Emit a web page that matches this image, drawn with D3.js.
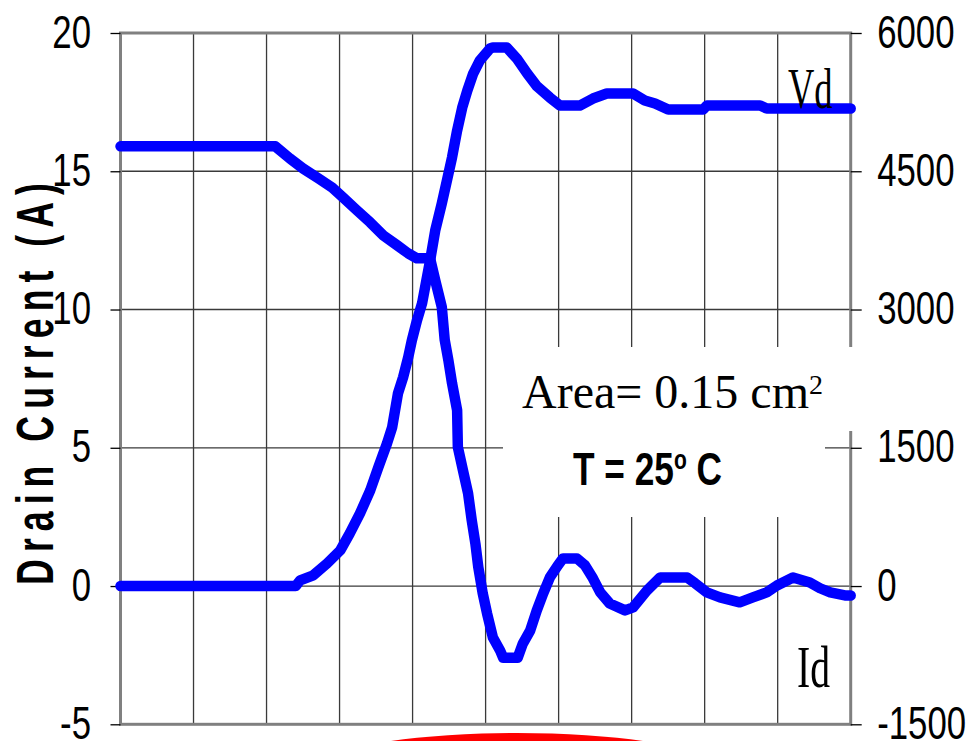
<!DOCTYPE html>
<html>
<head>
<meta charset="utf-8">
<script src="https://cdn.jsdelivr.net/npm/d3@7"></script>
<style>
  html, body { margin: 0; padding: 0; background: #fff; }
  svg { display: block; }
</style>
</head>
<body>
<div id="chart"></div>
<script>
// time axis in grid divisions (no labels on the original)
let gridTicks = [0, 1, 2, 3, 4, 5, 6, 7, 8, 9, 10];
let currentTicks = [-5, 0, 5, 10, 15, 20];
let voltageTicks = [-1500, 0, 1500, 3000, 4500, 6000];

// Id, drain current (A), left axis
let idTime = [0, 2.12, 2.32, 2.50, 2.71, 2.90, 3.05, 3.24, 3.42, 3.60, 3.79, 3.94, 4.06, 4.24,
    4.31, 4.40, 4.44, 4.49, 4.54, 4.61, 4.62, 4.69, 4.76, 4.81, 4.86, 4.90, 4.96, 5.02, 5.10,
    5.20, 5.24, 5.44, 5.51, 5.61, 5.70, 5.79, 5.88, 5.99, 6.06, 6.25, 6.36, 6.47, 6.57, 6.70,
    6.91, 7.02, 7.21, 7.39, 7.76, 7.87, 8.03, 8.21, 8.48, 8.66, 8.85, 8.99, 9.21, 9.44, 9.58,
    9.72, 9.92, 10];
let idValue = [15.9, 15.9, 15.46, 15.1, 14.74, 14.41, 14.05, 13.58, 13.15, 12.68, 12.32, 12.03, 11.85, 11.85,
    11.06, 10.09, 8.9, 8.17, 7.34, 6.36, 5.02, 4.18, 3.35, 2.38, 1.54, 0.68, -0.26, -0.99, -1.86,
    -2.34, -2.59, -2.59, -2.08, -1.61, -0.89, -0.26, 0.31, 0.75, 1.0, 1.0, 0.75, 0.28, -0.23, -0.63,
    -0.88, -0.77, -0.16, 0.31, 0.31, 0.1, -0.23, -0.41, -0.59, -0.41, -0.23, 0.02, 0.31, 0.13, -0.08,
    -0.23, -0.34, -0.34];

// Vd, drain voltage (V), right axis
let vdTime = [0, 2.40, 2.46, 2.64, 2.83, 3.01, 3.14, 3.28, 3.42, 3.53, 3.65, 3.72, 3.76, 3.80,
    3.87, 3.94, 3.99, 4.06, 4.13, 4.24, 4.31, 4.40, 4.47, 4.54, 4.61, 4.68, 4.75, 4.83, 4.92,
    5.06, 5.10, 5.29, 5.43, 5.57, 5.70, 5.88, 6.02, 6.29, 6.47, 6.66, 7.02, 7.18, 7.32, 7.50,
    7.98, 8.03, 8.76, 8.85, 10];
let vdValue = [0, 0, 62, 116, 246, 387, 571, 788, 1038, 1287, 1548, 1721, 1906, 2090,
    2264, 2481, 2665, 2882, 3067, 3532, 3857, 4150, 4399, 4649, 4942, 5191, 5376, 5560, 5701,
    5831, 5842, 5842, 5720, 5560, 5425, 5300, 5213, 5213, 5289, 5343, 5343, 5267, 5235, 5170,
    5170, 5213, 5213, 5180, 5180];

let width = 971;
let height = 741;
let plot = { left: 120.5, right: 850.7, top: 33, bottom: 724.3 };
let narrow = 0.74;

let svg = d3.select('#chart')
    .append('svg')
    .attr('width', width)
    .attr('height', height);

let xScale = d3.scaleLinear().domain([0, 10]).range([plot.left, plot.right]);
let yLeft = d3.scaleLinear().domain([-5, 20]).range([plot.bottom, plot.top]);
let yRight = d3.scaleLinear().domain([-1500, 6000]).range([plot.bottom, plot.top]);

// gridlines
svg.append('g')
    .selectAll('line')
    .data(gridTicks.slice(1, -1))
    .join('line')
    .attr('x1', d => xScale(d)).attr('x2', d => xScale(d))
    .attr('y1', plot.top).attr('y2', plot.bottom)
    .attr('stroke', '#3a3a3a')
    .attr('stroke-width', 1.3);

svg.append('g')
    .selectAll('line')
    .data(currentTicks.slice(1, -1))
    .join('line')
    .attr('x1', plot.left).attr('x2', plot.right)
    .attr('y1', d => yLeft(d)).attr('y2', d => yLeft(d))
    .attr('stroke', '#3a3a3a')
    .attr('stroke-width', 1.3);

// frame
svg.append('rect')
    .attr('x', plot.left).attr('y', plot.top)
    .attr('width', plot.right - plot.left)
    .attr('height', plot.bottom - plot.top)
    .attr('fill', 'none')
    .attr('stroke', '#808080')
    .attr('stroke-width', 3);

// white boxes behind the annotations
svg.append('rect')
    .attr('x', 503).attr('y', 347).attr('width', 370).attr('height', 84)
    .attr('fill', '#fff');
svg.append('rect')
    .attr('x', 503).attr('y', 430).attr('width', 322).attr('height', 87)
    .attr('fill', '#fff');

// axes
let plainNumber = d => String(d);

let leftAxis = svg.append('g')
    .attr('transform', `translate(${plot.left}, 0)`)
    .call(d3.axisLeft(yLeft).tickValues(currentTicks).tickFormat(plainNumber)
        .tickSize(10).tickSizeOuter(0));

let rightAxis = svg.append('g')
    .attr('transform', `translate(${plot.right}, 0)`)
    .call(d3.axisRight(yRight).tickValues(voltageTicks).tickFormat(plainNumber)
        .tickSize(11).tickSizeOuter(0));

function styleAxis(axis, dx) {
    axis.select('.domain').remove();
    axis.selectAll('.tick line').attr('stroke', '#000').attr('stroke-width', 1.3);
    axis.selectAll('.tick text')
        .attr('x', 0)
        .attr('dy', 0)
        .attr('transform', `translate(${dx}, 14) scale(${narrow}, 1)`)
        .attr('fill', '#000')
        .style('font-family', '"Liberation Sans", Arial, sans-serif')
        .style('font-size', '47px');
}
styleAxis(leftAxis, -29.5);
styleAxis(rightAxis, 26.5);

// y axis title
svg.append('text')
    .attr('transform', `translate(53, 384) rotate(-90) scale(0.7, 1)`)
    .attr('text-anchor', 'middle')
    .attr('textLength', 574)
    .attr('lengthAdjust', 'spacing')
    .style('font-family', '"Liberation Sans", Arial, sans-serif')
    .style('font-weight', 'bold')
    .style('font-size', '51px')
    .text('Drain Current (A)');

// curves
let line = d3.line().curve(d3.curveLinear);

svg.append('path')
    .attr('d', line(vdTime.map((t, i) => [xScale(t), yRight(vdValue[i])])))
    .attr('fill', 'none')
    .attr('stroke', '#0000ff')
    .attr('stroke-width', 10.5)
    .attr('stroke-linejoin', 'round')
    .attr('stroke-linecap', 'round');

svg.append('path')
    .attr('d', line(idTime.map((t, i) => [xScale(t), yLeft(idValue[i])])))
    .attr('fill', 'none')
    .attr('stroke', '#0000ff')
    .attr('stroke-width', 10.5)
    .attr('stroke-linejoin', 'round')
    .attr('stroke-linecap', 'round');

// annotations
svg.append('text')
    .attr('transform', 'translate(788, 108) scale(0.64, 1)')
    .style('font-family', '"Liberation Serif", "Times New Roman", serif')
    .style('font-size', '57px')
    .text('Vd');

svg.append('text')
    .attr('transform', 'translate(797, 687) scale(0.66, 1)')
    .style('font-family', '"Liberation Serif", "Times New Roman", serif')
    .style('font-size', '60px')
    .text('Id');

let area = svg.append('text')
    .attr('x', 522).attr('y', 408)
    .style('font-family', '"Liberation Serif", "Times New Roman", serif')
    .style('font-size', '48px');
area.append('tspan').text('Area= 0.15 cm');
area.append('tspan').attr('dy', -14).style('font-size', '28px').text('2');

let temp = svg.append('text')
    .attr('transform', 'translate(573, 485) scale(0.75, 1)')
    .style('font-family', '"Liberation Sans", Arial, sans-serif')
    .style('font-weight', 'bold')
    .style('font-size', '47px');
temp.append('tspan').text('T = 25');
temp.append('tspan').attr('dy', -16).style('font-size', '28px').text('o');
temp.append('tspan').attr('dy', 16).text(' C');

// red mark cut by the bottom edge
svg.append('ellipse')
    .attr('cx', 517).attr('cy', 761)
    .attr('rx', 180).attr('ry', 28)
    .attr('fill', '#ff0000');
</script>
</body>
</html>
